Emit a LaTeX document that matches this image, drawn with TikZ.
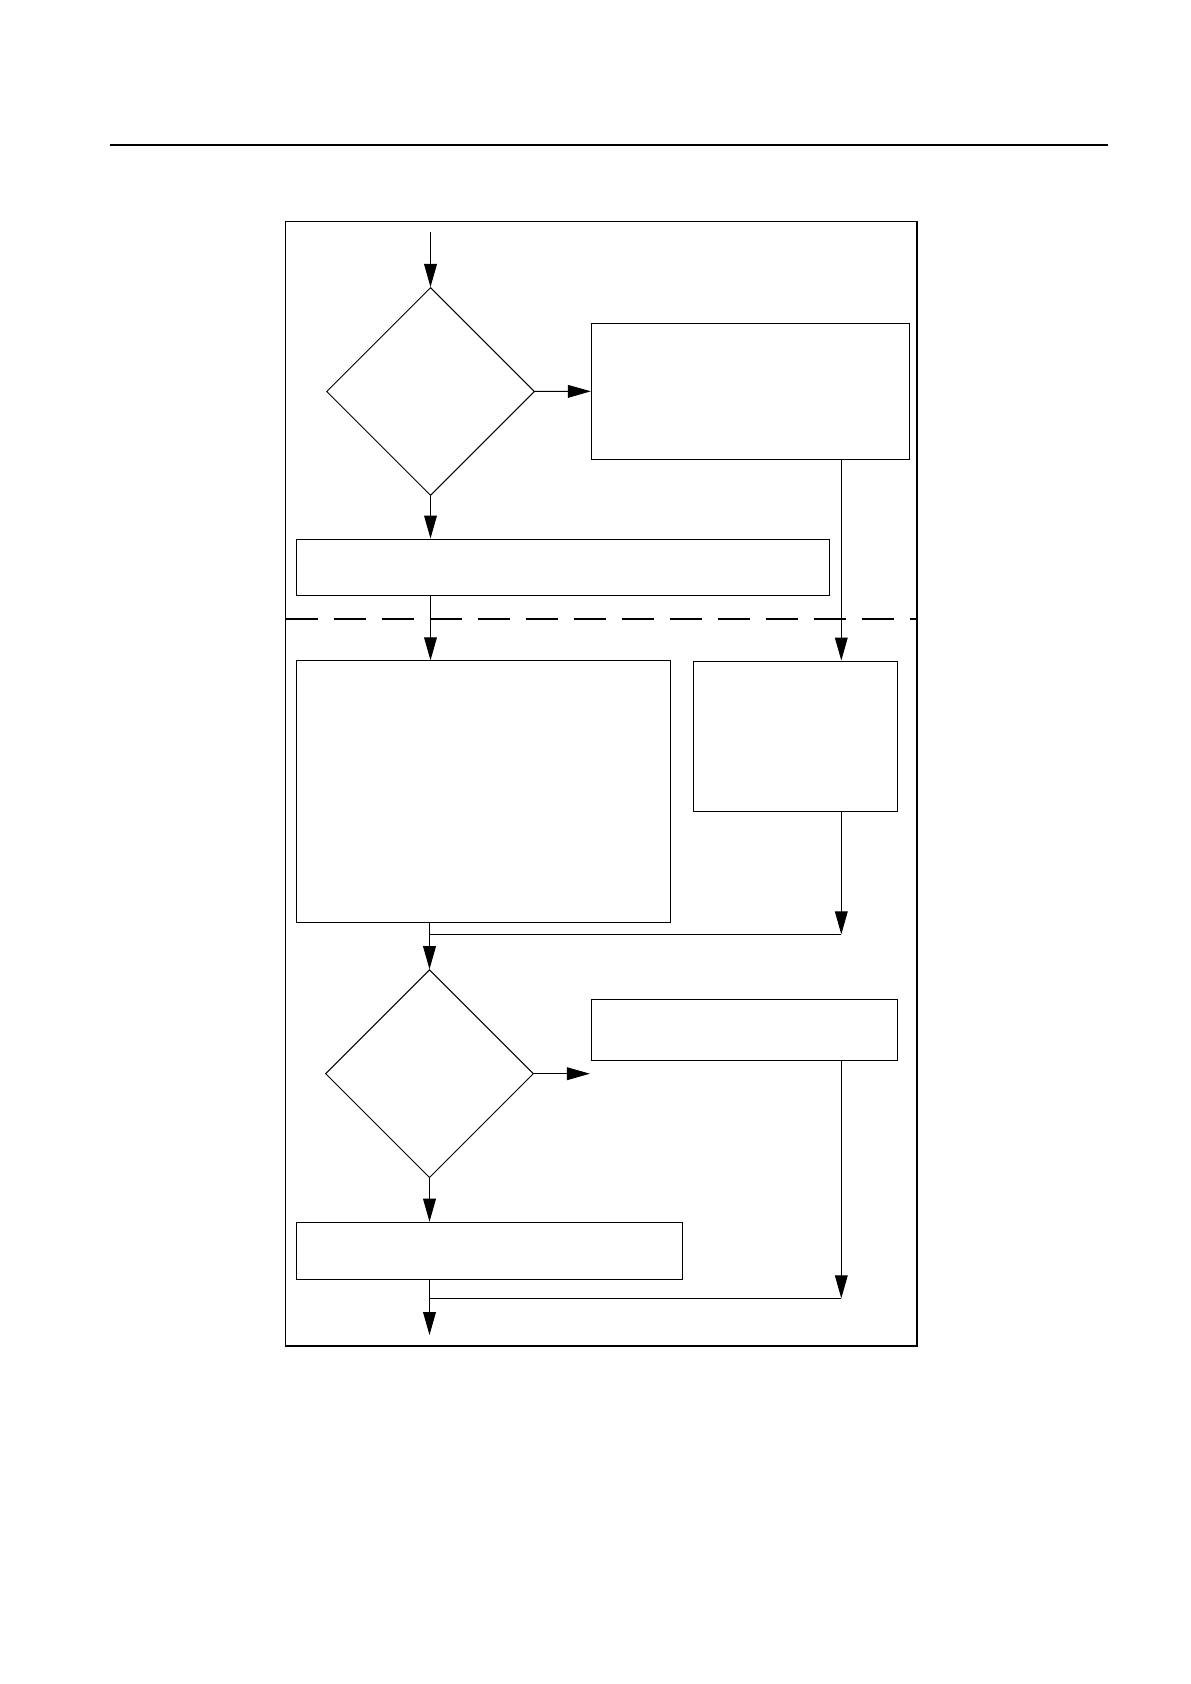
\documentclass[tikz,border=0pt]{standalone}
\usepackage{tikz}
\usetikzlibrary{shapes.geometric,arrows.meta}

\begin{document}
\begin{tikzpicture}[x=0.5pt,y=-0.5pt,
    block/.style={draw, rectangle, inner sep=0pt, line width=0.5pt},
    decision/.style={draw, diamond, inner sep=0pt, minimum width=104pt, minimum height=104pt, line width=0.5pt},
    flowarrow/.style={line width=0.5pt, -{Triangle[length=11.5pt,width=6.4pt]}},
    flowline/.style={line width=0.5pt}]
                \useasboundingbox (0,0) rectangle (1190,1684);

                % page rule and frame
                \draw[line width=0.65pt] (110,145) -- (1108,145);
                \draw[line width=0.6pt] (285.5,221.3) rectangle (917,1346);
                \draw[line width=1pt, dash pattern=on 16pt off 8pt] (285.5,618.7) -- (917,618.7);

                \coordinate (start) at (430.5,231.7);
                \node (dia1) [decision] at (430.5,391.5) {};
                \node (box1) [block, minimum width=159pt, minimum height=68pt] at (750.4,391.3) {};
                \node (box2) [block, minimum width=266.7pt, minimum height=28.1pt] at (563.1,567.1) {};
                \node (box3) [block, minimum width=187.2pt, minimum height=130.6pt] at (483.5,791.4) {};
                \node (boxr) [block, minimum width=102.2pt, minimum height=75pt] at (795.5,736) {};
                \node (dia2) [decision] at (429.5,1073.7) {};
                \node (box4) [block, minimum width=153.2pt, minimum height=30.3pt] at (744.6,1030) {};
                \node (box5) [block, minimum width=192.9pt, minimum height=28.4pt] at (489.5,1250.6) {};

                \coordinate (right1) at (841.3,0);
                \coordinate (join1) at (841.3,934.3);
                \coordinate (no2) at (589.9,1073.7);
                \coordinate (join2) at (841.3,1298.3);
                \coordinate (finish) at (429.5,1335);

                \draw[flowarrow] (start) -- (dia1.north);
                \draw[flowarrow] (dia1.east) -- (box1.west);
                \draw[flowarrow] (dia1.south) -- (dia1.south |- box2.north);
                \draw[flowarrow] (right1 |- box1.south) -- (right1 |- boxr.north);
                \draw[flowarrow] (dia1.south |- box2.south) -- (dia1.south |- box3.north);

                \draw[flowarrow] (right1 |- boxr.south) -- (join1);
                \draw[flowline] (join1) -- (dia2.north |- join1);
                \draw[flowarrow] (dia2.north |- box3.south) -- (dia2.north);
                \draw[flowarrow] (dia2.east) -- (no2);
                \draw[flowarrow] (dia2.south) -- (dia2.south |- box5.north);

                \draw[flowarrow] (right1 |- box4.south) -- (join2);
                \draw[flowline] (join2) -- (finish |- join2);
                \draw[flowarrow] (finish |- box5.south) -- (finish);
\end{tikzpicture}
\end{document}
